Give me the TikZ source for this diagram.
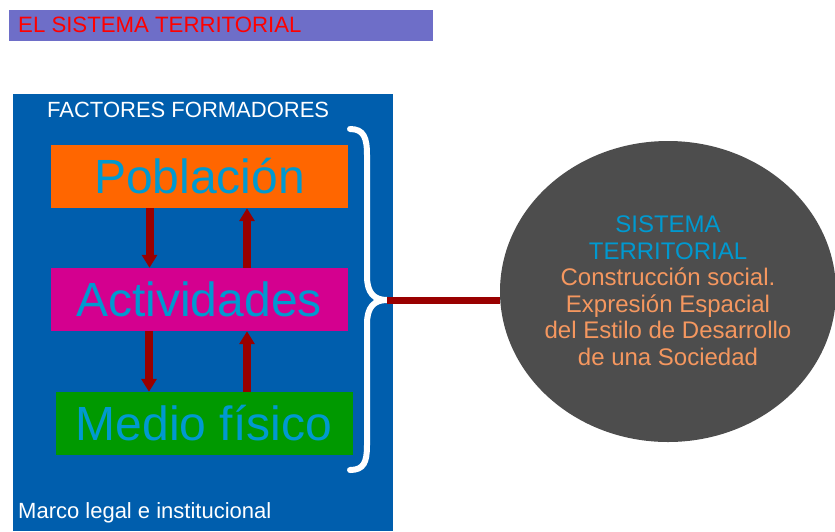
\documentclass[tikz,border=0pt]{standalone}
\usepackage{fontspec}
\setmainfont{Liberation Sans}
\usetikzlibrary{arrows.meta}
\usetikzlibrary{shapes.geometric}
\definecolor{barra}{HTML}{6E6EC8}
\definecolor{rojotit}{HTML}{FF0000}
\definecolor{panel}{HTML}{005EAD}
\definecolor{naranja}{HTML}{FF6600}
\definecolor{magenta}{HTML}{D4008F}
\definecolor{verde}{HTML}{009900}
\definecolor{celeste}{HTML}{0099D0}
\definecolor{granate}{HTML}{990000}
\definecolor{gris}{HTML}{4D4D4D}
\definecolor{salmon}{HTML}{F5975F}
\tikzset{factor/.style={rectangle, minimum width=297pt, minimum height=63pt,
  inner sep=0pt, text=celeste, font=\fontsize{48}{52}\selectfont},
  flujo/.style={granate, line width=8pt, -{Triangle[width=15pt,length=13pt]}}}

\begin{document}
\begin{tikzpicture}[x=1pt, y=-1pt]
      \useasboundingbox (0,0) rectangle (835,531);

      \fill [barra] (9,10) rectangle (433,41);
      \node [anchor=base west, inner sep=0pt, text=rojotit, font=\fontsize{22.2}{26}\selectfont] (titulo) at (18,32) {EL SISTEMA TERRITORIAL};

      \fill [panel] (13,94) rectangle (393,531);
      \node [anchor=base west, inner sep=0pt, text=white, font=\fontsize{22}{26}\selectfont] (factores) at (47,117) {FACTORES FORMADORES};
      \node [anchor=base west, inner sep=0pt, text=white, font=\fontsize{22}{26}\selectfont] (marco) at (18,518) {Marco legal e institucional};

      \node [factor, fill=naranja] (pob) at (199.5,176.5) {Población};
      \node [factor, fill=magenta] (act) at (199,299.5) {Actividades};
      \node [factor, fill=verde] (med) at (204,423.5) {Medio físico};

      \draw [flujo] ([xshift=-50pt]pob.south) -- ([xshift=-50pt]pob.south |- act.north);
      \draw [flujo] ([xshift=48pt]act.north) -- ([xshift=48pt]act.north |- pob.south);
      \draw [flujo] ([xshift=-50pt]act.south) -- ([xshift=-50pt]act.south |- med.north);
      \draw [flujo] ([xshift=48pt]act.south |- med.north) -- ([xshift=48pt]act.south);

      \coordinate (punta) at (387,300);
      \draw [white, line width=6pt, line cap=round] (350,129) .. controls (364,129) and (367,138) .. (367,155) -- (367,276)
        .. controls (367,293) and (374,300) .. (punta) .. controls (374,300) and (367,307) .. (367,324) -- (367,445)
        .. controls (367,462) and (364,470) .. (350,470);

      \node [ellipse, fill=gris, minimum width=336pt, minimum height=301pt, inner sep=0pt] (sistema) at (668,291.5) {};
      \node [align=center, inner sep=0pt, font=\fontsize{24}{26.5}\selectfont] (definicion) at ([yshift=1pt]sistema.center)
        {\textcolor{celeste}{SISTEMA}\\ \textcolor{celeste}{TERRITORIAL}\\ \textcolor{salmon}{Construcción social.}\\
         \textcolor{salmon}{Expresión Espacial}\\ \textcolor{salmon}{del Estilo de Desarrollo}\\ \textcolor{salmon}{de una Sociedad}};

      \draw [granate, line width=7pt] (punta) -- (punta -| sistema.west);
\end{tikzpicture}
\end{document}
